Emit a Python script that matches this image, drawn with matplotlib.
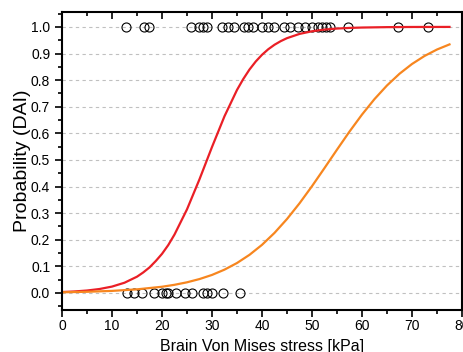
import matplotlib
matplotlib.use("Agg")
import matplotlib.pyplot as plt
from matplotlib.ticker import MultipleLocator

plt.rcParams['font.family'] = ['Liberation Sans', 'DejaVu Sans']

# observed cases: stress [kPa] with DAI (1) and without DAI (0)
stress_dai = [12.8, 16.4, 17.4, 25.8, 27.4, 28.2, 29.0, 32.0, 33.2, 34.4, 36.4, 37.2,
              38.2, 40.0, 41.2, 42.4, 44.4, 45.6, 47.2, 48.6, 50.0, 51.2, 52.0, 52.8,
              53.6, 57.2, 67.2, 73.2]
stress_no_dai = [13.0, 14.4, 16.0, 18.4, 20.0, 20.8, 21.2, 22.8, 24.6, 26.0, 28.2,
                 29.0, 30.0, 32.2, 35.6]

# fitted probability curves
red_x = [0, 2.5, 5, 7.5, 10, 12.5, 15, 16.25, 17.5, 18.75, 20, 21.25, 22.5, 25, 27.5, 30,
         32.5, 35, 36.25, 37.5, 38.75, 40, 41.25, 42.5, 43.75, 45, 47.5, 50, 52.5, 55,
         57.5, 60, 65, 70, 77.5]
red_p = [0.0035, 0.0057, 0.0092, 0.0149, 0.0240, 0.0385, 0.0612, 0.0772, 0.0960, 0.1200,
         0.147, 0.1800, 0.2196, 0.3143, 0.4274, 0.5486, 0.6643, 0.7631, 0.8040, 0.8399,
         0.8700, 0.8952, 0.9160, 0.9329, 0.9465, 0.9577, 0.9736, 0.9836, 0.9899, 0.9938,
         0.9962, 0.9976, 0.9991, 0.9997, 0.9999]
orange_x = [0, 5, 10, 15, 20, 22.5, 25, 27.5, 30, 32.5, 35, 37.5, 40, 42.5, 45, 47.5, 50,
            52.5, 55, 57.5, 60, 62.5, 65, 67.5, 70, 72.5, 75, 77.5]
orange_p = [0.0026, 0.0045, 0.0078, 0.0136, 0.0234, 0.0307, 0.0401, 0.0523, 0.0678, 0.0877,
            0.1126, 0.1434, 0.1809, 0.2258, 0.2780, 0.3369, 0.4014, 0.4695, 0.5387, 0.6066,
            0.6705, 0.7287, 0.7799, 0.8239, 0.8606, 0.8907, 0.9150, 0.9342]

fig = plt.figure(figsize=(4.63, 3.52), dpi=100)
ax = fig.add_axes([62 / 463, 1 - 310 / 352, 400 / 463, 298 / 352])

# dashed horizontal grid
ax.yaxis.grid(True, which='major', linestyle=(0, (3, 3)), color='#c0c0c0', linewidth=0.8)
ax.set_axisbelow(True)

ax.plot(stress_dai, [1] * len(stress_dai), 'o', mfc='none', mec='black', ms=6.5, mew=0.8)
ax.plot(stress_no_dai, [0] * len(stress_no_dai), 'o', mfc='none', mec='black', ms=6.5, mew=0.8)

ax.plot(red_x, red_p, color='#ea1f26', lw=1.6)
ax.plot(orange_x, orange_p, color='#f7861f', lw=1.6)

ax.set_xlim(0, 80)
ax.set_ylim(-0.064, 1.056)
ax.xaxis.set_major_locator(MultipleLocator(10))
ax.xaxis.set_minor_locator(MultipleLocator(5))
ax.set_yticks([i / 10 for i in range(11)])
ax.set_yticklabels(['%.1f' % (i / 10) for i in range(11)])
ax.yaxis.set_minor_locator(MultipleLocator(0.05))

ax.tick_params(axis='both', which='major', length=5, width=1.2, labelsize=10, direction='out')
ax.tick_params(axis='both', which='minor', length=3, width=1.2, direction='out')
ax.tick_params(axis='x', which='major', pad=1.5)
ax.tick_params(axis='x', which='both', top=True)
ax.tick_params(axis='y', which='both', right=True)
# top/right ticks point inward
for t in ax.xaxis.get_ticklines(minor=False)[1::2] + ax.xaxis.get_ticklines(minor=True)[1::2]:
    t.set_marker(3)
for t in ax.yaxis.get_ticklines(minor=False)[1::2] + ax.yaxis.get_ticklines(minor=True)[1::2]:
    t.set_marker(1)

for s in ax.spines.values():
    s.set_linewidth(1.5)

ax.set_xlabel('Brain Von Mises stress [kPa]', fontsize=11.5, labelpad=4)
ax.set_ylabel('Probability (DAI)', fontsize=14, labelpad=0)

fig.savefig('out.png', dpi=100)
